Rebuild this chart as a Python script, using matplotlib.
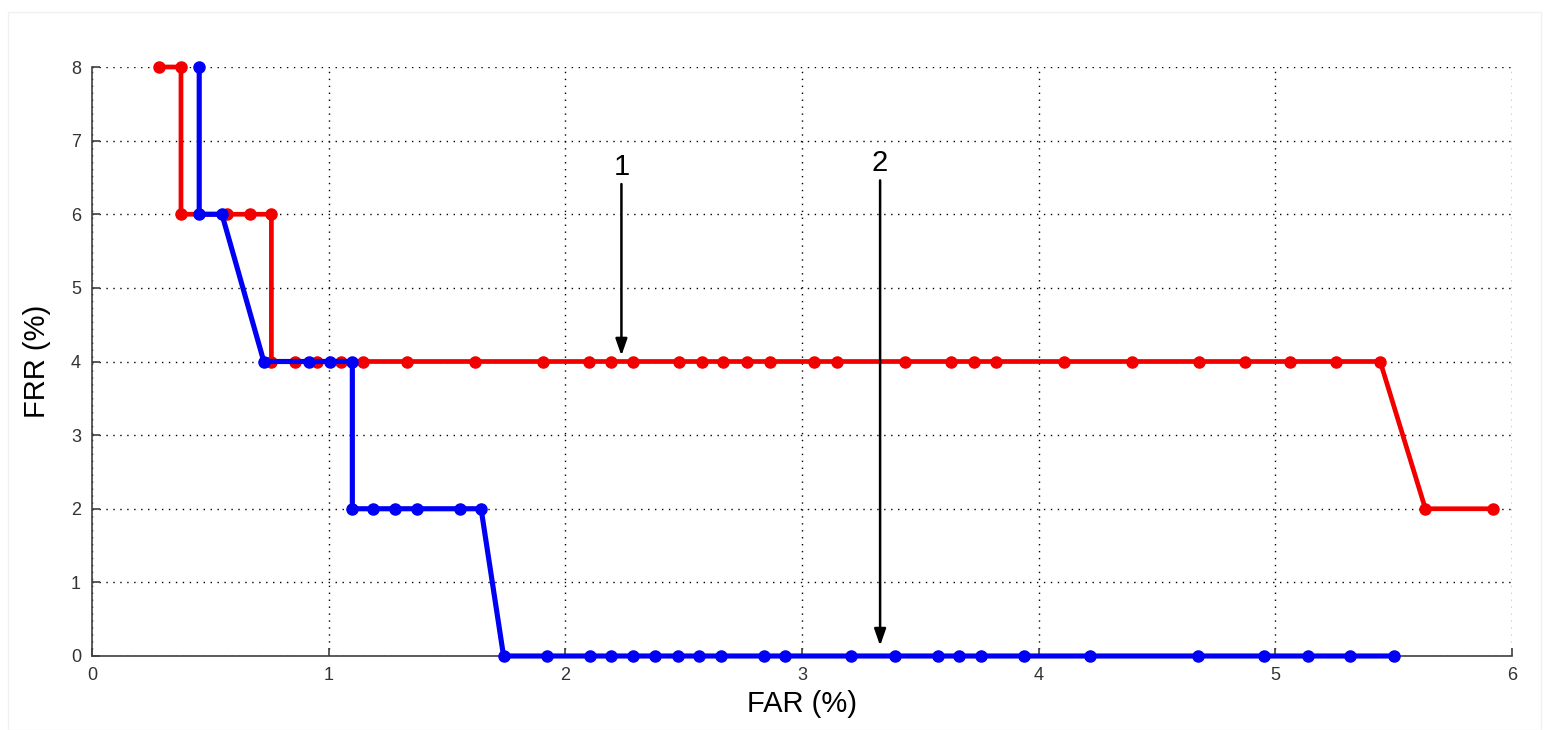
import numpy as np
import matplotlib
matplotlib.use("Agg")
from matplotlib import pyplot as plt
from matplotlib.patches import Rectangle

# curve 1 (red)
far1 = [0.284, 0.376, 0.376, 0.571, 0.667, 0.758, 0.758, 0.857, 0.952, 1.051,
        1.143, 1.333, 1.62, 1.905, 2.099, 2.195, 2.287, 2.48, 2.576, 2.668,
        2.767, 2.866, 3.052, 3.148, 3.434, 3.628, 3.727, 3.819, 4.109, 4.395,
        4.678, 4.871, 5.062, 5.256, 5.443, 5.634, 5.921]
frr1 = [8, 8, 6, 6, 6, 6, 4, 4, 4, 4,
        4, 4, 4, 4, 4, 4, 4, 4, 4, 4,
        4, 4, 4, 4, 4, 4, 4, 4, 4, 4,
        4, 4, 4, 4, 4, 2, 2]

# curve 2 (blue)
far2 = [0.453, 0.453, 0.549, 0.726, 0.917, 1.006, 1.1, 1.1, 1.189, 1.281,
        1.372, 1.554, 1.644, 1.739, 1.924, 2.106, 2.195, 2.287, 2.378, 2.475,
        2.565, 2.658, 2.84, 2.929, 3.205, 3.391, 3.575, 3.664, 3.756, 3.939,
        4.217, 4.674, 4.952, 5.136, 5.317, 5.5]
frr2 = [8, 6, 6, 4, 4, 4, 4, 2, 2, 2,
        2, 2, 2, 0, 0, 0, 0, 0, 0, 0,
        0, 0, 0, 0, 0, 0, 0, 0, 0, 0,
        0, 0, 0, 0, 0, 0]

# annotation labels: text, x, text y, arrow tip y
labels = ["1", "2"]
label_x = [2.237, 3.33]
label_y = [6.45, 6.5]
tip_y = [4.08, 0.14]

plt.rcParams['font.family'] = ['Liberation Sans', 'DejaVu Sans']

fig = plt.figure(figsize=(15.49, 7.3), dpi=100)
fig.patches.append(Rectangle((8 / 1549, 0), 1 - 16 / 1549, 1 - 12 / 730,
                             transform=fig.transFigure, fill=False,
                             edgecolor='#f0f0f0', lw=1.0))
ax = fig.add_axes([92 / 1549, 74 / 730, 1420 / 1549, 589 / 730])

ax.plot(far1, frr1, '-o', color='#f20000', lw=3.4, ms=8, zorder=3, clip_on=False)
ax.plot(far2, frr2, '-o', color='#0000f5', lw=3.7, ms=8, zorder=4, clip_on=False)

for t, x, y, ty in zip(labels, label_x, label_y, tip_y):
    ax.text(x, y, t, fontsize=21, ha='center', va='bottom', color='black')
    ax.annotate('', xy=(x, ty), xytext=(x, y - 0.04),
                arrowprops=dict(arrowstyle='-|>,head_length=1.0,head_width=0.35',
                                color='black', lw=1.8, shrinkA=0, shrinkB=0),
                zorder=5)

ax.set_xlim(0, 6)
ax.set_ylim(0, 8)
ax.set_xticks(np.arange(0, 7, 1))
ax.set_yticks(np.arange(0, 9, 1))
ax.grid(True, linestyle=(0, (1, 4)), color='black', lw=1.0)
ax.set_axisbelow(True)
ax.spines['top'].set_visible(False)
ax.spines['right'].set_visible(False)
for s in ['left', 'bottom']:
    ax.spines[s].set_color('#404040')
    ax.spines[s].set_linewidth(1.2)
ax.tick_params(direction='in', length=6, width=1.2, color='#404040',
               labelsize=13, labelcolor='#333333', pad=8)

ax.set_xlabel('FAR (%)', fontsize=21, labelpad=4)
ax.set_ylabel('FRR (%)', fontsize=21, labelpad=14)

fig.savefig('out.png', dpi=100)
